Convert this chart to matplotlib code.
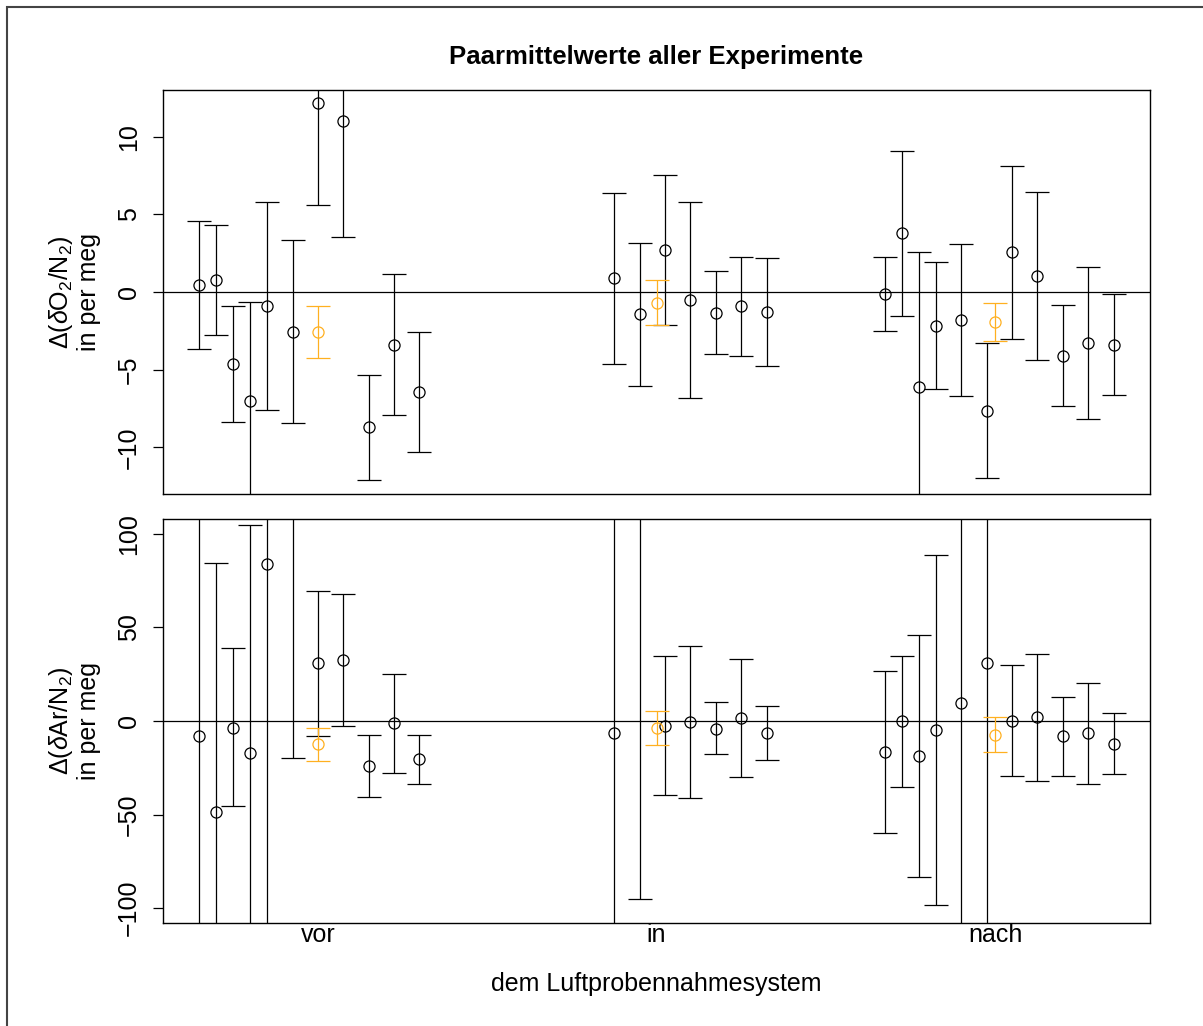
import numpy as np
import matplotlib
matplotlib.use('Agg')
import matplotlib.pyplot as plt
from matplotlib.patches import Rectangle

plt.rcParams['font.family'] = ['Liberation Sans', 'DejaVu Sans']
plt.rcParams['mathtext.fontset'] = 'custom'
plt.rcParams['mathtext.rm'] = 'Liberation Sans'
plt.rcParams['mathtext.it'] = 'Liberation Sans:italic'

# x positions of the experiments (in thirds of a slot, "vor" = 0)
x_black = [-14, -12, -10, -8, -6, -3, 0, 3, 6, 9, 12,
           35, 38, 41, 44, 47, 50, 53,
           67, 69, 71, 73, 76, 79, 82, 85, 88, 91, 94]
x_orange = [0, 40, 80]
group_labels = ['vor', 'in', 'nach']

# delta(O2/N2), per meg
o2_mean = [0.43, 0.77, -4.63, -6.99, -0.92, -2.57, 12.18, 11.02, -8.70, -3.39, -6.43,
           0.88, -1.41, 2.70, -0.51, -1.33, -0.90, -1.29,
           -0.11, 3.79, -6.13, -2.19, -1.82, -7.63, 2.55, 1.03, -4.09, -3.28, -3.39]
o2_low = [-3.69, -2.77, -8.38, -13.4, -7.61, -8.45, 5.59, 3.56, -12.09, -7.93, -10.29,
          -4.65, -6.02, -2.10, -6.82, -4.01, -4.12, -4.76,
          -2.49, -1.52, -14.8, -6.22, -6.71, -12.00, -3.02, -4.37, -7.35, -8.19, -6.62]
o2_high = [4.54, 4.29, -0.90, -0.62, 5.77, 3.32, 18.8, 18.5, -5.34, 1.16, -2.59,
           6.39, 3.17, 7.50, 5.77, 1.37, 2.27, 2.17,
           2.23, 9.09, 2.55, 1.91, 3.07, -3.28, 8.10, 6.45, -0.84, 1.59, -0.15]
o2_mean_or = [-2.59, -0.69, -1.93]
o2_low_or = [-4.27, -2.10, -3.13]
o2_high_or = [-0.90, 0.77, -0.71]

# delta(Ar/N2), per meg
ar_mean = [-8.0, -48.5, -3.6, -17.1, 83.9, 135, 30.8, 32.5, -24.0, -1.2, -20.4,
           -6.4, 120, -2.7, -0.5, -4.1, 1.6, -6.2,
           -16.4, -0.2, -18.7, -4.8, 9.8, 31.1, 0.2, 2.0, -8.0, -6.6, -12.1]
ar_low = [-160, -181, -45.3, -139, -140, -20, -8.2, -2.8, -40.5, -27.9, -33.6,
          -170, -95.3, -39.6, -41.4, -17.8, -29.9, -20.8,
          -59.7, -35.2, -83.4, -98.5, -140, -130, -29.2, -32.2, -29.2, -33.6, -28.3]
ar_high = [144, 84.4, 38.8, 104.9, 300, 290, 69.5, 68.1, -7.6, 25.2, -7.3,
           160, 335, 34.5, 40.2, 10.0, 33.1, 8.2,
           27.0, 34.7, 46.2, 88.9, 160, 190, 29.7, 35.7, 13.0, 20.4, 4.3]
ar_mean_or = [-12.4, -3.9, -7.6]
ar_low_or = [-21.2, -13.0, -16.7]
ar_high_or = [-3.7, 5.2, 2.0]

FS = 18
ORANGE = '#FFB020'


def draw_panel(ax, x, m, lo, hi, xo, mo, loo, hio, ylim, yticks, ylabel):
    ax.axhline(0, color='black', lw=0.9, zorder=1)
    for xx, mm, l, h, col in [(x, m, lo, hi, 'black'),
                              (xo, mo, loo, hio, ORANGE)]:
        mm = np.asarray(mm)
        err = [mm - np.array(l), np.array(h) - mm]
        ax.errorbar(xx, mm, yerr=err, fmt='o', mfc='none', mec=col, mew=0.9,
                    ms=8, ecolor=col, elinewidth=0.9, capsize=8.6,
                    capthick=0.9, zorder=3)
    ax.set_xlim(-18.3, 98.3)
    ax.set_ylim(*ylim)
    ax.set_yticks(yticks)
    ax.tick_params(axis='y', labelsize=FS, length=7, width=0.9, pad=9,
                   labelrotation=90)
    for lab in ax.get_yticklabels():
        lab.set_va('center')
    for s in ax.spines.values():
        s.set_linewidth(1.0)
    ax.text(-0.09, 0.5, ylabel, transform=ax.transAxes, rotation=90,
            ha='center', va='center', fontsize=FS, multialignment='center',
            linespacing=1.1)


fig = plt.figure(figsize=(12.03, 10.26), dpi=100)
ax1 = fig.add_axes([163 / 1203, 1 - 494 / 1026, 987 / 1203, 404 / 1026])
ax2 = fig.add_axes([163 / 1203, 1 - 923 / 1026, 987 / 1203, 404 / 1026])

draw_panel(ax1, x_black, o2_mean, o2_low, o2_high,
           x_orange, o2_mean_or, o2_low_or, o2_high_or,
           (-13, 13), [-10, -5, 0, 5, 10],
           '$\\Delta(\\delta\\mathrm{O}_2/\\mathrm{N}_2)$\nin per meg')
draw_panel(ax2, x_black, ar_mean, ar_low, ar_high,
           x_orange, ar_mean_or, ar_low_or, ar_high_or,
           (-108, 108), [-100, -50, 0, 50, 100],
           '$\\Delta(\\delta\\mathrm{Ar}/\\mathrm{N}_2)$\nin per meg')

ax1.set_xticks([])
ax2.set_xticks(x_orange)
ax2.set_xticklabels(group_labels)
ax2.tick_params(axis='x', length=0, labelsize=FS, pad=0)

ax1.set_title('Paarmittelwerte aller Experimente', fontsize=FS + 0.5,
              fontweight='bold', pad=19)
fig.text((163 + 1150) / 2 / 1203, 1 - 984 / 1026, 'dem Luftprobennahmesystem',
         ha='center', va='center', fontsize=FS)

# device border
fig.patches.append(Rectangle((7 / 1203, -0.1), 1.2, 1 - 7 / 1026 + 0.1,
                             transform=fig.transFigure, fill=False,
                             ec='#444444', lw=1.5))

fig.savefig('out.png', dpi=100)
